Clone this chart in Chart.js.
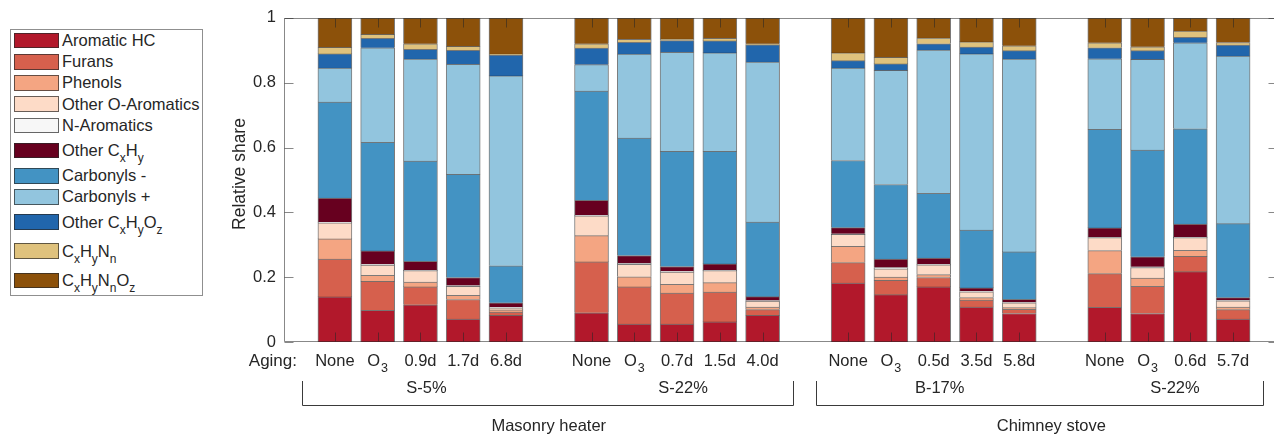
<!DOCTYPE html>
<html>
<head>
<meta charset="utf-8">
<script src="https://cdn.jsdelivr.net/npm/chart.js@4.4.0/dist/chart.umd.min.js"></script>
<style>
  html, body { margin: 0; padding: 0; background: #fff; overflow: hidden; }
  body { width: 1274px; height: 435px; position: relative; font-family: "Liberation Sans", Arial, sans-serif; color: #262626; }
  #chart { position: absolute; left: 0; top: 0; }
  #legend { position: absolute; left: 10px; top: 29px; width: 191px; height: 265px; border: 1px solid #8f8f8f; background: #fff; }
  .item { display: flex; align-items: center; font-size: 16.5px; white-space: nowrap; }
  .item.plain { height: 21.2px; }
  .item.subs { height: 29.2px; }
  .sw { width: 43px; height: 13.6px; border: 1px solid rgba(40,40,40,0.7); margin: 0 3px 0 3px; flex: none; }
  sub { font-size: 12px; vertical-align: -6px; line-height: 0; }
</style>
</head>
<body>
<div id="legend"></div>
<canvas id="chart" width="1290" height="435"></canvas>
<script>
// x categories
const agingLabels = ['None', 'O3', '0.9d', '1.7d', '6.8d',
                     'None', 'O3', '0.7d', '1.5d', '4.0d',
                     'None', 'O3', '0.5d', '3.5d', '5.8d',
                     'None', 'O3', '0.6d', '5.7d'];
const groupNames = ['S-5%', 'S-22%', 'B-17%', 'S-22%'];
const groupSizes = [5, 5, 5, 4];
const stoveNames = ['Masonry heater', 'Chimney stove'];
const stoveGroupCounts = [2, 2];
const yTicks = [0, 0.2, 0.4, 0.6, 0.8, 1];

// series (bottom to top)
const seriesNames = ['Aromatic HC', 'Furans', 'Phenols', 'Other O-Aromatics', 'N-Aromatics',
                     'Other C_xH_y', 'Carbonyls -', 'Carbonyls +', 'Other C_xH_yO_z',
                     'C_xH_yN_n', 'C_xH_yN_nO_z'];
const seriesColors = ['#b2182b', '#d6604d', '#f4a582', '#fddbc7', '#f7f7f7',
                      '#67001f', '#4393c3', '#92c5de', '#2166ac', '#dfc27d', '#8c510a'];

const aromaticHC      = [0.139, 0.098, 0.115, 0.071, 0.082, 0.090, 0.055, 0.055, 0.062, 0.082, 0.182, 0.146, 0.170, 0.108, 0.088, 0.107, 0.088, 0.217, 0.071];
const furans          = [0.117, 0.089, 0.055, 0.060, 0.010, 0.157, 0.115, 0.096, 0.092, 0.018, 0.063, 0.044, 0.029, 0.021, 0.013, 0.104, 0.084, 0.047, 0.029];
const phenols         = [0.062, 0.019, 0.015, 0.013, 0.007, 0.081, 0.031, 0.027, 0.029, 0.008, 0.050, 0.010, 0.009, 0.008, 0.005, 0.071, 0.025, 0.019, 0.008];
const otherOAromatics = [0.050, 0.031, 0.035, 0.028, 0.006, 0.061, 0.039, 0.038, 0.037, 0.018, 0.037, 0.026, 0.030, 0.018, 0.015, 0.040, 0.033, 0.039, 0.019];
const nAromatics      = [0.002, 0.003, 0.002, 0.002, 0.002, 0.002, 0.003, 0.002, 0.002, 0.002, 0.002, 0.004, 0.002, 0.002, 0.002, 0.002, 0.002, 0.002, 0.002];
const otherCxHy       = [0.074, 0.041, 0.027, 0.025, 0.014, 0.046, 0.024, 0.015, 0.019, 0.012, 0.019, 0.026, 0.019, 0.010, 0.009, 0.028, 0.031, 0.040, 0.008];
const carbonylsMinus  = [0.296, 0.335, 0.309, 0.318, 0.114, 0.337, 0.362, 0.355, 0.347, 0.230, 0.207, 0.230, 0.200, 0.178, 0.146, 0.304, 0.329, 0.294, 0.228];
const carbonylsPlus   = [0.105, 0.292, 0.315, 0.340, 0.586, 0.082, 0.259, 0.306, 0.304, 0.494, 0.285, 0.352, 0.442, 0.544, 0.595, 0.218, 0.280, 0.265, 0.517];
const otherCxHyOz     = [0.044, 0.029, 0.030, 0.043, 0.064, 0.051, 0.037, 0.036, 0.037, 0.053, 0.023, 0.020, 0.019, 0.021, 0.026, 0.034, 0.027, 0.017, 0.034];
const cxHyNn          = [0.020, 0.012, 0.017, 0.012, 0.003, 0.013, 0.009, 0.005, 0.008, 0.003, 0.024, 0.020, 0.018, 0.016, 0.015, 0.015, 0.012, 0.019, 0.008];
const cxHyNnOz        = [0.091, 0.051, 0.080, 0.088, 0.112, 0.080, 0.066, 0.065, 0.063, 0.080, 0.108, 0.122, 0.062, 0.074, 0.086, 0.077, 0.089, 0.041, 0.076];

const seriesValues = [aromaticHC, furans, phenols, otherOAromatics, nAromatics, otherCxHy,
                      carbonylsMinus, carbonylsPlus, otherCxHyOz, cxHyNn, cxHyNnOz];

// slot positions: one empty slot between groups
const slots = [];
let pos = 0;
groupSizes.forEach(n => { for (let i = 0; i < n; i++) slots.push(pos++); pos++; });

const FONT = '"Liberation Sans", Arial, sans-serif';
const TEXT = '#262626';

// html legend (needs subscripts)
const legendEl = document.getElementById('legend');
seriesNames.forEach((name, i) => {
  const hasSub = name.includes('_');
  const row = document.createElement('div');
  row.className = 'item ' + (hasSub ? 'subs' : 'plain');
  row.innerHTML = `<span class="sw" style="background:${seriesColors[i]}"></span>` +
    `<span>${name.replace(/_(\w)/g, '<sub>$1</sub>')}</span>`;
  legendEl.appendChild(row);
});

function line(ctx, x1, y1, x2, y2) {
  ctx.beginPath(); ctx.moveTo(x1, y1); ctx.lineTo(x2, y2); ctx.stroke();
}

const decorations = {
  id: 'decorations',
  afterDatasetsDraw(chart) {
    const { ctx, chartArea: a, scales: { x, y } } = chart;
    const L = Math.round(a.left) + 0.5, R = Math.round(a.right) - 0.5;
    const T = Math.round(a.top) + 0.5, B = Math.round(a.bottom) - 0.5;
    ctx.save();
    ctx.lineWidth = 1;
    ctx.strokeStyle = 'rgba(38,38,38,0.55)';

    // inward x ticks over the bars
    slots.forEach(v => {
      const px = Math.round(x.getPixelForValue(v)) + 0.5;
      line(ctx, px, B, px, B - 9);
      line(ctx, px, T, px, T + 9);
    });
    // frame
    line(ctx, L, T, R, T);
    line(ctx, L, B, R, B);
    line(ctx, L, T, L, B);
    line(ctx, R, T, R, B);
    // inward y ticks
    yTicks.forEach(v => {
      const py = Math.round(y.getPixelForValue(v)) + 0.5;
      line(ctx, L, py, L + 9, py);
      line(ctx, R, py, R - 9, py);
    });

    // tick labels
    ctx.fillStyle = TEXT;
    ctx.textBaseline = 'middle';
    const labelY = 361;
    agingLabels.forEach((lab, i) => {
      const cx = x.getPixelForValue(slots[i]);
      if (lab === 'O3') {
        ctx.font = '16.5px ' + FONT;
        const wO = ctx.measureText('O').width;
        ctx.font = '12.5px ' + FONT;
        const w3 = ctx.measureText('3').width;
        const start = cx - (wO + 1 + w3) / 2;
        ctx.textAlign = 'left';
        ctx.font = '16.5px ' + FONT;
        ctx.fillText('O', start, labelY);
        ctx.font = '12.5px ' + FONT;
        ctx.fillText('3', start + wO + 1, labelY + 8);
      } else {
        ctx.font = '16.5px ' + FONT;
        ctx.textAlign = 'center';
        ctx.fillText(lab, cx, labelY);
      }
    });
    ctx.font = '17px ' + FONT;
    ctx.textAlign = 'right';
    ctx.fillText('Aging:', a.left + 13, labelY);

    // group labels
    ctx.font = '16.5px ' + FONT;
    ctx.textAlign = 'center';
    const groupCenters = [];
    let k = 0;
    groupSizes.forEach((n, g) => {
      const first = x.getPixelForValue(slots[k]);
      const last = x.getPixelForValue(slots[k + n - 1]);
      groupCenters.push((first + last) / 2);
      ctx.fillText(groupNames[g], (first + last) / 2 + 6, 388);
      k += n;
    });

    // stove brackets and labels
    ctx.strokeStyle = '#3a3a3a';
    const step = x.getPixelForValue(1) - x.getPixelForValue(0);
    let g0 = 0, b0 = 0;
    stoveGroupCounts.forEach((gc, si) => {
      let nb = 0;
      for (let g = g0; g < g0 + gc; g++) nb += groupSizes[g];
      const xl = Math.round(x.getPixelForValue(slots[b0]) - 0.76 * step) + 0.5;
      const xr = Math.round(x.getPixelForValue(slots[b0 + nb - 1]) + 0.71 * step) + 0.5;
      line(ctx, xl, 381, xl, 405.5);
      line(ctx, xl, 405.5, xr, 405.5);
      line(ctx, xr, 405.5, xr, 381);
      const cx = (groupCenters[g0] + groupCenters[g0 + gc - 1]) / 2;
      ctx.fillText(stoveNames[si], cx, 426);
      g0 += gc; b0 += nb;
    });

    // y title
    ctx.font = '17.5px ' + FONT;
    ctx.translate(240, 174);
    ctx.rotate(-Math.PI / 2);
    ctx.textAlign = 'center';
    ctx.fillText('Relative share', 0, 0);
    ctx.restore();
  }
};

new Chart(document.getElementById('chart'), {
  type: 'bar',
  data: {
    labels: slots,
    datasets: seriesValues.map((vals, i) => ({
      label: seriesNames[i].replace(/_/g, ''),
      data: vals,
      backgroundColor: seriesColors[i],
      borderColor: 'rgba(35,35,35,0.6)',
      borderWidth: { top: 1, left: 1, right: 1, bottom: 0 },
      borderSkipped: false,
      barThickness: 34,
    })),
  },
  options: {
    responsive: false,
    animation: false,
    layout: { padding: { left: 0, top: 17, right: 12, bottom: 93 } },
    plugins: { legend: { display: false }, tooltip: { enabled: false } },
    scales: {
      x: { type: 'linear', stacked: true, offset: false, min: -1.19, max: 22.05, display: false },
      y: {
        stacked: true,
        min: 0,
        max: 1,
        grid: { display: false, drawTicks: false },
        border: { display: false },
        afterFit(scale) { scale.width = 284; },
        afterBuildTicks(scale) { scale.ticks = yTicks.map(v => ({ value: v })); },
        ticks: {
          padding: 8,
          color: TEXT,
          font: { size: 16.5, family: FONT },
          callback: v => String(v),
        },
      },
    },
  },
  plugins: [decorations],
});
</script>
</body>
</html>
